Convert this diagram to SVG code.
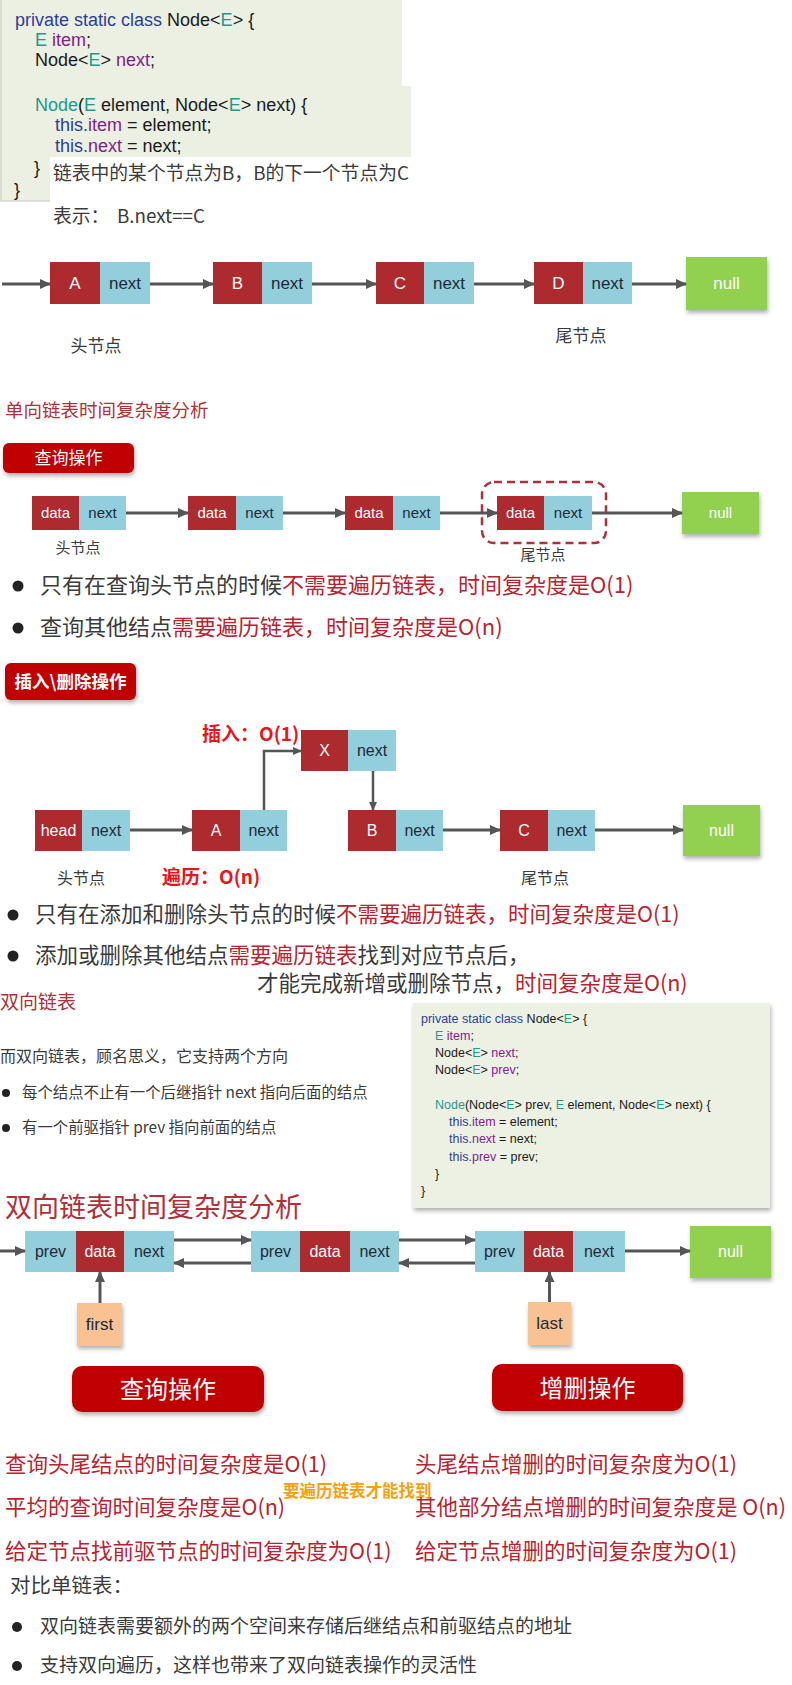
<svg xmlns="http://www.w3.org/2000/svg" width="792" height="1685" viewBox="0 0 792 1685">
<defs>
<style>
.cj{font-family:"Noto Sans CJK SC","Noto Sans",sans-serif}
.lt{font-family:"Liberation Sans",Arial,sans-serif}
.nt{font-family:"Liberation Sans",Arial,sans-serif;text-anchor:middle}
.r{fill:#ad2a2e}
.b{fill:#93cedd}
.g{fill:#92d050}
.pe{fill:#f9c293}
.w{fill:#ffffff}
.dk{fill:#1e2a36}
.gr{fill:#3b3b3b}
.red{fill:#b8232f}
.kw{fill:#2c3e96}
.tl{fill:#1d9a8e}
.pu{fill:#82208a}
.bk{fill:#1a1a1a}
.ar{stroke:#555555;stroke-width:3;fill:none}
.ar2{stroke:#555555;stroke-width:2.5;fill:none}
.btn{fill:#c00000}
.ctr{text-anchor:middle}
</style>
<marker id="ah" markerUnits="userSpaceOnUse" markerWidth="11" markerHeight="10" refX="10" refY="5" orient="auto">
<path d="M0,0 L11,5 L0,10 z" fill="#555555"/>
</marker>
<marker id="ahs" markerUnits="userSpaceOnUse" markerWidth="9" markerHeight="8" refX="8" refY="4" orient="auto">
<path d="M0,0 L9,4 L0,8 z" fill="#555555"/>
</marker>
<filter id="sh" x="-10%" y="-20%" width="130%" height="160%">
<feDropShadow dx="1" dy="3" stdDeviation="2" flood-color="#000" flood-opacity="0.3"/>
</filter>
</defs>

<!-- Top code block -->
<g id="code1">
<path d="M0,0 H402 V86 H411 V157 H50 V201 H0 Z" fill="#ebf0e2"/>
<path d="M1,0 V201 H50" fill="none" stroke="#d3d6ce" stroke-width="1.5"/>
<text class="lt" font-size="18" x="15" y="26"><tspan class="kw">private static class</tspan><tspan class="bk"> Node&lt;</tspan><tspan class="tl">E</tspan><tspan class="bk">&gt; {</tspan></text>
<text class="lt" font-size="18" x="35" y="46"><tspan class="tl">E</tspan><tspan class="pu"> item</tspan><tspan class="bk">;</tspan></text>
<text class="lt" font-size="18" x="35" y="66"><tspan class="bk">Node&lt;</tspan><tspan class="tl">E</tspan><tspan class="bk">&gt; </tspan><tspan class="pu">next</tspan><tspan class="bk">;</tspan></text>
<text class="lt" font-size="18" x="35" y="111"><tspan class="tl">Node</tspan><tspan class="bk">(</tspan><tspan class="tl">E</tspan><tspan class="bk"> element, Node&lt;</tspan><tspan class="tl">E</tspan><tspan class="bk">&gt; next) {</tspan></text>
<text class="lt" font-size="18" x="55" y="131"><tspan class="kw">this.</tspan><tspan class="pu">item</tspan><tspan class="bk"> = element;</tspan></text>
<text class="lt" font-size="18" x="55" y="152"><tspan class="kw">this.</tspan><tspan class="pu">next</tspan><tspan class="bk"> = next;</tspan></text>
<text class="lt bk" font-size="18" x="34" y="174">}</text>
<text class="lt bk" font-size="18" x="14" y="196">}</text>
</g>

<g id="note1">
<text class="cj gr" font-size="18.8" x="53" y="180">链表中的某个节点为B，B的下一个节点为C</text>
<text class="cj gr" font-size="18.8" x="53" y="223">表示：<tspan x="117">B.next==C</tspan></text>
</g>

<!-- Row 1 singly linked list -->
<g id="r1-A"><rect class="r" x="50" y="262" width="50" height="42"/><rect class="b" x="100" y="262" width="50" height="42"/><text class="nt w" font-size="17" x="75" y="289">A</text><text class="nt dk" font-size="17" x="125" y="289">next</text></g>
<g id="r1-B"><rect class="r" x="213" y="262" width="49" height="42"/><rect class="b" x="262" y="262" width="50" height="42"/><text class="nt w" font-size="17" x="237.5" y="289">B</text><text class="nt dk" font-size="17" x="287" y="289">next</text></g>
<g id="r1-C"><rect class="r" x="376" y="262" width="48" height="42"/><rect class="b" x="424" y="262" width="50" height="42"/><text class="nt w" font-size="17" x="400" y="289">C</text><text class="nt dk" font-size="17" x="449" y="289">next</text></g>
<g id="r1-D"><rect class="r" x="534" y="262" width="49" height="42"/><rect class="b" x="583" y="262" width="49" height="42"/><text class="nt w" font-size="17" x="558.5" y="289">D</text><text class="nt dk" font-size="17" x="607.5" y="289">next</text></g>
<g id="r1-null"><rect class="g" x="686" y="257" width="81" height="53" filter="url(#sh)"/><text class="nt w" font-size="17" x="726.5" y="289">null</text></g>
<g id="r1-labels">
<text class="cj gr ctr" font-size="17" x="96" y="352">头节点</text>
<text class="cj gr ctr" font-size="17" x="581" y="342">尾节点</text>
</g>

<!-- Section: singly list complexity -->
<g id="title-single"><text class="cj" font-size="18.5" fill="#b0303a" x="5" y="417">单向链表时间复杂度分析</text></g>
<g id="btn-query1"><rect class="btn" x="3" y="443" width="131" height="30" rx="6" filter="url(#sh)"/><text class="cj w ctr" font-size="17" x="68.5" y="464">查询操作</text></g>

<g id="r2-n1"><rect class="r" x="32" y="496" width="47" height="34"/><rect class="b" x="79" y="496" width="47" height="34"/><text class="nt w" font-size="15" x="55.5" y="518">data</text><text class="nt dk" font-size="15" x="102.5" y="518">next</text></g>
<g id="r2-n2"><rect class="r" x="188" y="496" width="48" height="34"/><rect class="b" x="236" y="496" width="47" height="34"/><text class="nt w" font-size="15" x="212" y="518">data</text><text class="nt dk" font-size="15" x="259.5" y="518">next</text></g>
<g id="r2-n3"><rect class="r" x="345" y="496" width="48" height="34"/><rect class="b" x="393" y="496" width="47" height="34"/><text class="nt w" font-size="15" x="369" y="518">data</text><text class="nt dk" font-size="15" x="416.5" y="518">next</text></g>
<g id="r2-n4"><rect class="r" x="497" y="496" width="47" height="34"/><rect class="b" x="544" y="496" width="48" height="34"/><text class="nt w" font-size="15" x="520.5" y="518">data</text><text class="nt dk" font-size="15" x="568" y="518">next</text></g>
<g id="r2-tail-box"><rect x="482" y="482" width="124" height="61" rx="12" fill="none" stroke="#b0303a" stroke-width="2.5" stroke-dasharray="8,5"/></g>
<g id="r2-null"><rect class="g" x="682" y="492" width="77" height="42" filter="url(#sh)"/><text class="nt w" font-size="15" x="720.5" y="518">null</text></g>
<g id="r2-labels">
<text class="cj gr ctr" font-size="15" x="78" y="553">头节点</text>
<text class="cj gr ctr" font-size="15" x="543" y="560">尾节点</text>
</g>

<g id="bullets-query1">
<circle cx="18" cy="586" r="5.5" fill="#222"/>
<text class="cj" font-size="22" x="40" y="593"><tspan class="gr">只有在查询头节点的时候</tspan><tspan class="red">不需要遍历链表，时间复杂度是O(1)</tspan></text>
<circle cx="18" cy="628" r="5.5" fill="#222"/>
<text class="cj" font-size="22" x="40" y="635"><tspan class="gr">查询其他结点</tspan><tspan class="red">需要遍历链表，时间复杂度是O(n)</tspan></text>
</g>

<g id="btn-insert"><rect class="btn" x="5" y="663" width="131" height="37" rx="6" filter="url(#sh)"/><text class="cj w ctr" font-size="17.5" font-weight="bold" x="70.5" y="688">插入\删除操作</text></g>

<g id="r3-X"><rect class="r" x="301" y="730" width="47" height="41"/><rect class="b" x="348" y="730" width="48" height="41"/><text class="nt w" font-size="16" x="324.5" y="756">X</text><text class="nt dk" font-size="16" x="372" y="756">next</text></g>
<g id="r3-head"><rect class="r" x="35" y="810" width="47" height="41"/><rect class="b" x="82" y="810" width="48" height="41"/><text class="nt w" font-size="16" x="58.5" y="836">head</text><text class="nt dk" font-size="16" x="106" y="836">next</text></g>
<g id="r3-A"><rect class="r" x="192" y="810" width="48" height="41"/><rect class="b" x="240" y="810" width="47" height="41"/><text class="nt w" font-size="16" x="216" y="836">A</text><text class="nt dk" font-size="16" x="263.5" y="836">next</text></g>
<g id="r3-B"><rect class="r" x="348" y="810" width="48" height="41"/><rect class="b" x="396" y="810" width="47" height="41"/><text class="nt w" font-size="16" x="372" y="836">B</text><text class="nt dk" font-size="16" x="419.5" y="836">next</text></g>
<g id="r3-C"><rect class="r" x="500" y="810" width="48" height="41"/><rect class="b" x="548" y="810" width="47" height="41"/><text class="nt w" font-size="16" x="524" y="836">C</text><text class="nt dk" font-size="16" x="571.5" y="836">next</text></g>
<g id="r3-null"><rect class="g" x="683" y="805" width="77" height="51" filter="url(#sh)"/><text class="nt w" font-size="16" x="721.5" y="836">null</text></g>
<g id="r3-labels">
<text class="cj" font-size="19" font-weight="bold" fill="#e8161b" x="202" y="741">插入：O(1)</text>
<text class="cj" font-size="19" font-weight="bold" fill="#e8161b" x="162" y="884">遍历：O(n)</text>
<text class="cj gr ctr" font-size="16" x="81" y="884">头节点</text>
<text class="cj gr ctr" font-size="16" x="545" y="884">尾节点</text>
</g>

<g id="bullets-insert">
<circle cx="13" cy="915" r="5.5" fill="#222"/>
<text class="cj" font-size="21.5" x="35" y="922"><tspan class="gr">只有在添加和删除头节点的时候</tspan><tspan class="red">不需要遍历链表，时间复杂度是O(1)</tspan></text>
<circle cx="13" cy="956" r="5.5" fill="#222"/>
<text class="cj" font-size="21.5" x="35" y="963"><tspan class="gr">添加或删除其他结点</tspan><tspan class="red">需要遍历链表</tspan><tspan class="gr">找到对应节点后，</tspan></text>
<text class="cj" font-size="21.5" x="257" y="991"><tspan class="gr">才能完成新增或删除节点，</tspan><tspan class="red">时间复杂度是O(n)</tspan></text>
</g>

<!-- Doubly linked list intro -->
<g id="title-double"><text class="cj" font-size="19" fill="#b0303a" x="0" y="1009">双向链表</text></g>
<g id="intro-double">
<text class="cj gr" font-size="16" x="0" y="1062">而双向链表，顾名思义，它支持两个方向</text>
<circle cx="6" cy="1093" r="4" fill="#222"/>
<text class="cj gr" font-size="15.4" x="22" y="1098">每个结点不止有一个后继指针 next 指向后面的结点</text>
<circle cx="6" cy="1128" r="4" fill="#222"/>
<text class="cj gr" font-size="15.4" x="22" y="1133">有一个前驱指针 prev 指向前面的结点</text>
</g>

<g id="code2">
<rect x="413" y="1003" width="357" height="205" fill="#edf1e4" filter="url(#sh)"/>
<text class="lt" font-size="12.5" x="421" y="1023"><tspan class="kw">private static class</tspan><tspan class="bk"> Node&lt;</tspan><tspan class="tl">E</tspan><tspan class="bk">&gt; {</tspan></text>
<text class="lt" font-size="12.5" x="435" y="1040"><tspan class="tl">E</tspan><tspan class="pu"> item</tspan><tspan class="bk">;</tspan></text>
<text class="lt" font-size="12.5" x="435" y="1057"><tspan class="bk">Node&lt;</tspan><tspan class="tl">E</tspan><tspan class="bk">&gt; </tspan><tspan class="pu">next</tspan><tspan class="bk">;</tspan></text>
<text class="lt" font-size="12.5" x="435" y="1074"><tspan class="bk">Node&lt;</tspan><tspan class="tl">E</tspan><tspan class="bk">&gt; </tspan><tspan class="pu">prev</tspan><tspan class="bk">;</tspan></text>
<text class="lt" font-size="12.5" x="435" y="1109"><tspan class="tl">Node</tspan><tspan class="bk">(Node&lt;</tspan><tspan class="tl">E</tspan><tspan class="bk">&gt; prev, </tspan><tspan class="tl">E</tspan><tspan class="bk"> element, Node&lt;</tspan><tspan class="tl">E</tspan><tspan class="bk">&gt; next) {</tspan></text>
<text class="lt" font-size="12.5" x="449" y="1126"><tspan class="kw">this.</tspan><tspan class="pu">item</tspan><tspan class="bk"> = element;</tspan></text>
<text class="lt" font-size="12.5" x="449" y="1143"><tspan class="kw">this.</tspan><tspan class="pu">next</tspan><tspan class="bk"> = next;</tspan></text>
<text class="lt" font-size="12.5" x="449" y="1161"><tspan class="kw">this.</tspan><tspan class="pu">prev</tspan><tspan class="bk"> = prev;</tspan></text>
<text class="lt bk" font-size="12.5" x="435" y="1178">}</text>
<text class="lt bk" font-size="12.5" x="421" y="1195">}</text>
</g>

<g id="title-double-complexity"><text class="cj" font-size="27" fill="#b0303a" x="5" y="1217">双向链表时间复杂度分析</text></g>

<g id="d-n1"><rect class="b" x="25" y="1231" width="51" height="41"/><rect class="r" x="76" y="1231" width="48" height="41"/><rect class="b" x="124" y="1231" width="50" height="41"/><text class="nt dk" font-size="16" x="50.5" y="1257">prev</text><text class="nt w" font-size="16" x="100" y="1257">data</text><text class="nt dk" font-size="16" x="149" y="1257">next</text></g>
<g id="d-n2"><rect class="b" x="251" y="1231" width="49" height="41"/><rect class="r" x="300" y="1231" width="50" height="41"/><rect class="b" x="350" y="1231" width="49" height="41"/><text class="nt dk" font-size="16" x="275.5" y="1257">prev</text><text class="nt w" font-size="16" x="325" y="1257">data</text><text class="nt dk" font-size="16" x="374.5" y="1257">next</text></g>
<g id="d-n3"><rect class="b" x="475" y="1231" width="49" height="41"/><rect class="r" x="524" y="1231" width="49" height="41"/><rect class="b" x="573" y="1231" width="52" height="41"/><text class="nt dk" font-size="16" x="499.5" y="1257">prev</text><text class="nt w" font-size="16" x="548.5" y="1257">data</text><text class="nt dk" font-size="16" x="599" y="1257">next</text></g>
<g id="d-null"><rect class="g" x="690" y="1226" width="81" height="52" filter="url(#sh)"/><text class="nt w" font-size="16" x="730.5" y="1257">null</text></g>
<g id="d-first"><rect class="pe" x="77" y="1303" width="45" height="43" filter="url(#sh)"/><text class="nt dk" font-size="17" x="99.5" y="1330">first</text></g>
<g id="d-last"><rect class="pe" x="528" y="1302" width="43" height="43" filter="url(#sh)"/><text class="nt dk" font-size="17" x="549.5" y="1329">last</text></g>

<g id="btn-query2"><rect class="btn" x="72" y="1366" width="192" height="46" rx="10" filter="url(#sh)"/><text class="cj w ctr" font-size="24" x="168" y="1398">查询操作</text></g>
<g id="btn-edit"><rect class="btn" x="492" y="1364" width="191" height="47" rx="10" filter="url(#sh)"/><text class="cj w ctr" font-size="24" x="587.5" y="1397">增删操作</text></g>

<g id="complexity-texts">
<text class="cj red" font-size="21.5" x="5" y="1472">查询头尾结点的时间复杂度是O(1)</text>
<text class="cj red" font-size="21.5" x="415" y="1472">头尾结点增删的时间复杂度为O(1)</text>
<text class="cj" font-size="16.5" font-weight="bold" fill="#f4a10b" x="283" y="1497">要遍历链表才能找到</text>
<text class="cj red" font-size="21.5" x="5" y="1515">平均的查询时间复杂度是O(n)</text>
<text class="cj red" font-size="21.5" x="415" y="1515">其他部分结点增删的时间复杂度是 O(n)</text>
<text class="cj red" font-size="21.5" x="5" y="1559">给定节点找前驱节点的时间复杂度为O(1)</text>
<text class="cj red" font-size="21.5" x="415" y="1559">给定节点增删的时间复杂度为O(1)</text>
</g>

<g id="compare">
<text class="cj gr" font-size="20.5" x="10" y="1593">对比单链表：</text>
<circle cx="17" cy="1627" r="5" fill="#222"/>
<text class="cj gr" font-size="19" x="40" y="1633">双向链表需要额外的两个空间来存储后继结点和前驱结点的地址</text>
<circle cx="17" cy="1666" r="5" fill="#222"/>
<text class="cj gr" font-size="19" x="40" y="1672">支持双向遍历，这样也带来了双向链表操作的灵活性</text>
</g>

<!-- Connectors -->
<g id="connectors">
<line class="ar" x1="2" y1="284" x2="50" y2="284" marker-end="url(#ah)"/>
<line class="ar" x1="150" y1="284" x2="213" y2="284" marker-end="url(#ah)"/>
<line class="ar" x1="312" y1="284" x2="376" y2="284" marker-end="url(#ah)"/>
<line class="ar" x1="474" y1="284" x2="534" y2="284" marker-end="url(#ah)"/>
<line class="ar" x1="632" y1="284" x2="686" y2="284" marker-end="url(#ah)"/>

<line class="ar" x1="126" y1="513" x2="188" y2="513" marker-end="url(#ah)"/>
<line class="ar" x1="283" y1="513" x2="345" y2="513" marker-end="url(#ah)"/>
<line class="ar" x1="440" y1="513" x2="497" y2="513" marker-end="url(#ah)"/>
<line class="ar" x1="592" y1="513" x2="682" y2="513" marker-end="url(#ah)"/>

<line class="ar" x1="130" y1="830" x2="192" y2="830" marker-end="url(#ah)"/>
<line class="ar" x1="443" y1="830" x2="500" y2="830" marker-end="url(#ah)"/>
<line class="ar" x1="595" y1="830" x2="683" y2="830" marker-end="url(#ah)"/>
<path class="ar2" d="M264,810 V751 H301" marker-end="url(#ahs)"/>
<line class="ar2" x1="373" y1="771" x2="373" y2="810" stroke-width="2" marker-end="url(#ahs)"/>

<line class="ar" x1="0" y1="1251" x2="25" y2="1251" marker-end="url(#ah)"/>
<line class="ar" x1="174" y1="1240" x2="251" y2="1240" marker-end="url(#ah)"/>
<line class="ar" x1="251" y1="1263" x2="174" y2="1263" marker-end="url(#ah)"/>
<line class="ar" x1="399" y1="1240" x2="475" y2="1240" marker-end="url(#ah)"/>
<line class="ar" x1="475" y1="1263" x2="399" y2="1263" marker-end="url(#ah)"/>
<line class="ar" x1="625" y1="1251" x2="690" y2="1251" marker-end="url(#ah)"/>
<line class="ar" x1="100" y1="1303" x2="100" y2="1272" marker-end="url(#ah)"/>
<line class="ar" x1="549.5" y1="1302" x2="549.5" y2="1272" marker-end="url(#ah)"/>
</g>
</svg>
